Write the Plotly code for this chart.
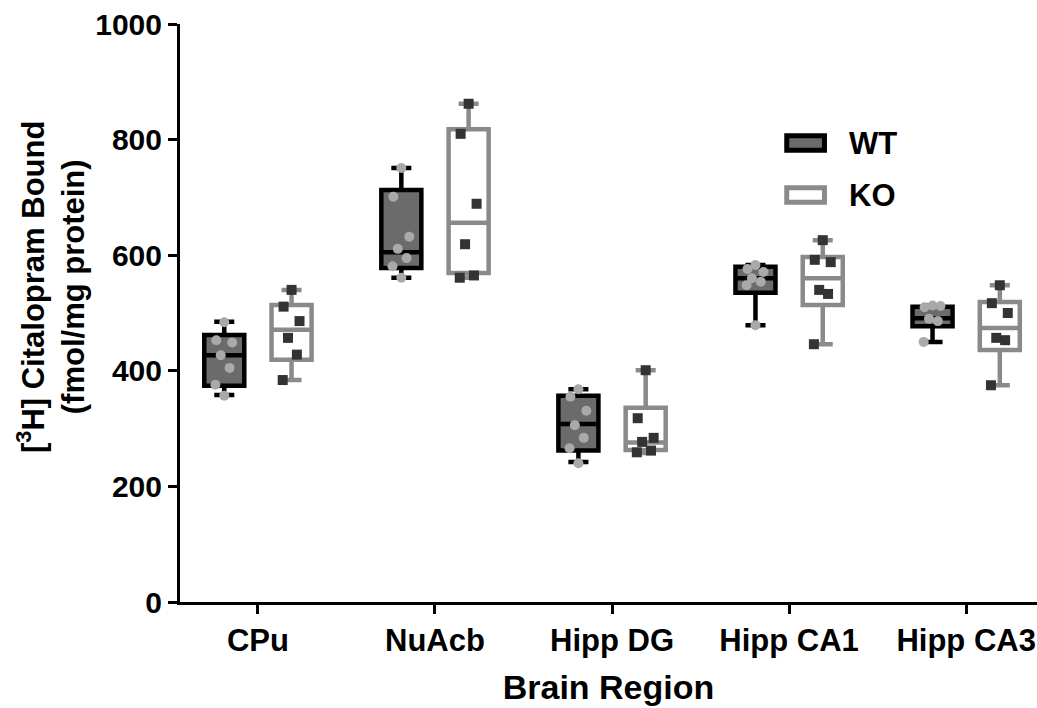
import plotly.graph_objects as go

# Brain regions on the x axis
regions = ["CPu", "NuAcb", "Hipp DG", "Hipp CA1", "Hipp CA3"]

# Box summaries (fmol/mg protein): min, Q1, median, Q3, max
wt_min = [358, 561, 242, 479, 450]
wt_q1 = [374, 578, 262, 535, 477]
wt_median = [427, 605, 308, 560, 491]
wt_q3 = [462, 713, 357, 580, 511]
wt_max = [485, 751, 368, 583, 513]

ko_min = [384, 561, 258, 446, 375]
ko_q1 = [419, 569, 263, 514, 436]
ko_median = [471, 656, 276, 560, 474]
ko_q3 = [514, 818, 336, 597, 519]
ko_max = [540, 862, 401, 626, 548]

# Individual animals
wt_points = [
    [484, 453, 449, 427, 405, 376, 357],
    [751, 701, 632, 611, 595, 581, 561],
    [368, 355, 331, 306, 284, 266, 240],
    [583, 576, 571, 560, 554, 548, 479],
    [513, 510, 512, 490, 486, 450],
]
ko_points = [
    [540, 511, 486, 457, 428, 384],
    [862, 810, 689, 619, 565, 561],
    [401, 318, 284, 277, 262, 259],
    [626, 592, 588, 540, 533, 446],
    [548, 517, 500, 457, 453, 375],
]

groups = ["WT", "KO"]

BOXGAP = 0.24
BOXGROUPGAP = 0.405
half_offset = (1 - BOXGAP) / 4
jitter = [0.0, -0.045, 0.045, -0.02, 0.03, -0.05, 0.0]

FONT = "Liberation Sans, Arial, sans-serif"
WT_FILL, WT_LINE = "#6b6b6b", "black"
KO_FILL, KO_LINE = "white", "#8a8a8a"
pos = list(range(len(regions)))

fig = go.Figure()

fig.add_trace(go.Box(
    name=groups[0], x=pos, q1=wt_q1, median=wt_median, q3=wt_q3,
    lowerfence=wt_min, upperfence=wt_max,
    fillcolor=WT_FILL, line=dict(color=WT_LINE, width=4.5),
    whiskerwidth=0.5, boxpoints=False, showlegend=False,
))
fig.add_trace(go.Box(
    name=groups[1], x=pos, q1=ko_q1, median=ko_median, q3=ko_q3,
    lowerfence=ko_min, upperfence=ko_max,
    fillcolor=KO_FILL, line=dict(color=KO_LINE, width=4.5),
    whiskerwidth=0.5, boxpoints=False, showlegend=False,
))


def scatter_xy(points, sign):
    xs, ys = [], []
    for i, vals in enumerate(points):
        for j, v in enumerate(vals):
            xs.append(i + sign * half_offset + jitter[j % len(jitter)])
            ys.append(v)
    return xs, ys


wx, wy = scatter_xy(wt_points, -1)
kx, ky = scatter_xy(ko_points, 1)

fig.add_trace(go.Scatter(
    x=wx, y=wy, mode="markers", showlegend=False, hoverinfo="y",
    marker=dict(symbol="circle", size=10, color="#a9a9a9", line=dict(width=0)),
))
fig.add_trace(go.Scatter(
    x=kx, y=ky, mode="markers", showlegend=False, hoverinfo="y",
    marker=dict(symbol="square", size=10, color="#333333", line=dict(width=0)),
))

# Legend key: wide box swatches with bold labels, drawn in paper space
legend_rows = [(groups[0], WT_FILL, WT_LINE, 0.794), (groups[1], KO_FILL, KO_LINE, 0.704)]
for label, fill, edge, yc in legend_rows:
    fig.add_shape(type="rect", xref="paper", yref="paper",
                  x0=0.708, x1=0.752, y0=yc - 0.0125, y1=yc + 0.0125,
                  fillcolor=fill, line=dict(color=edge, width=5))
    fig.add_annotation(text=label, xref="paper", yref="paper", x=0.778, y=yc,
                       xanchor="left", yanchor="middle", showarrow=False,
                       font=dict(size=31, family=FONT, weight="bold", color="black"))

# Y axis title, set slightly above the plot's vertical centre
fig.add_annotation(
    text="[<sup>3</sup>H] Citalopram Bound<br>(fmol/mg protein)",
    xref="paper", yref="paper", x=0, y=0.545, xshift=-129,
    xanchor="center", yanchor="middle", textangle=-90, showarrow=False,
    font=dict(size=31, family=FONT, weight="bold", color="black"),
)

fig.update_layout(
    width=1037, height=708,
    margin=dict(l=180, r=0, t=24, b=106),
    paper_bgcolor="white", plot_bgcolor="white",
    boxmode="group", boxgap=BOXGAP, boxgroupgap=BOXGROUPGAP,
    font=dict(family=FONT, color="black", weight="bold"),
    showlegend=False,
    xaxis=dict(
        range=[-0.44, 4.40], tickmode="array", tickvals=pos, ticktext=regions,
        showgrid=False, zeroline=False, showline=True, linecolor="black", linewidth=3,
        ticks="outside", ticklen=9, tickwidth=3, tickcolor="black",
        tickfont=dict(size=31, family=FONT, weight="bold"),
        title=dict(text="Brain Region", font=dict(size=34, family=FONT, weight="bold"), standoff=18),
    ),
    yaxis=dict(
        range=[0, 1000], tickmode="array", tickvals=[0, 200, 400, 600, 800, 1000],
        showgrid=False, zeroline=False, showline=True, linecolor="black", linewidth=3,
        ticks="outside", ticklen=9, tickwidth=3, tickcolor="black",
        tickfont=dict(size=30, family=FONT, weight="bold"),
    ),
)

fig.write_html("out.html")
